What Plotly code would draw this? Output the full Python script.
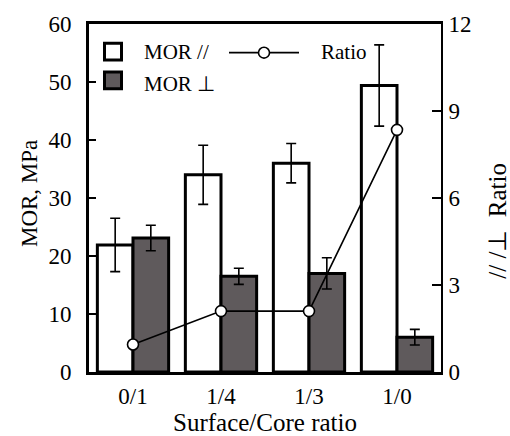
import plotly.graph_objects as go

# Data
ratios = ["0/1", "1/4", "1/3", "1/0"]
mor_par = [21.9, 34.0, 36.0, 49.4]
mor_par_err = [4.6, 5.1, 3.4, 7.0]
mor_perp = [23.1, 16.5, 17.0, 6.0]
mor_perp_err = [2.2, 1.4, 2.7, 1.35]
par_perp_ratio = [0.95, 2.1, 2.1, 8.35]

left_ticks = [0, 10, 20, 30, 40, 50, 60]
right_ticks = [0, 3, 6, 9, 12]

FONT = "Liberation Serif"
GRAY = "#5f5a5c"

W, H = 510, 436
L, R, T, B = 89, 441, 20, 372  # plot area in pixels


def px(x):
    return (x - L) / (R - L)


def py(y):
    return (B - y) / (B - T)


fig = go.Figure()

fig.add_trace(go.Bar(
    x=ratios, y=mor_par, name="MOR //",
    marker=dict(color="white", line=dict(color="black", width=3)),
    error_y=dict(type="data", array=mor_par_err, color="black", thickness=1.6, width=5),
    showlegend=False,
))
fig.add_trace(go.Bar(
    x=ratios, y=mor_perp, name="MOR ⊥",
    marker=dict(color=GRAY, line=dict(color="black", width=3)),
    error_y=dict(type="data", array=mor_perp_err, color="black", thickness=1.6, width=5),
    showlegend=False,
))
fig.add_trace(go.Scatter(
    x=ratios, y=par_perp_ratio, name="Ratio", yaxis="y2",
    mode="lines+markers",
    line=dict(color="black", width=1.6),
    marker=dict(symbol="circle", size=11, color="white", line=dict(color="black", width=1.6)),
    showlegend=False,
))

# Legend drawn as shapes and text
shapes = [
    dict(type="rect", xref="paper", yref="paper",
         x0=px(104.5), x1=px(121.5), y0=py(39.5), y1=py(56.5),
         line=dict(color="black", width=3), fillcolor="white"),
    dict(type="rect", xref="paper", yref="paper",
         x0=px(104.5), x1=px(121.5), y0=py(68.5), y1=py(85.5),
         line=dict(color="black", width=3), fillcolor=GRAY),
    dict(type="line", xref="paper", yref="paper",
         x0=px(229), x1=px(299), y0=py(49), y1=py(49),
         line=dict(color="black", width=1.6)),
    dict(type="circle", xref="paper", yref="paper",
         x0=px(258.5), x1=px(269.5), y0=py(43.5), y1=py(54.5),
         line=dict(color="black", width=1.6), fillcolor="white"),
]

NBSP = "\u00a0"
annotations = [
    dict(text="MOR //", x=px(142), y=py(48), xref="paper", yref="paper",
         xanchor="left", yanchor="middle", showarrow=False,
         font=dict(family=FONT, size=21, color="black")),
    dict(text="MOR ⊥", x=px(142), y=py(81), xref="paper", yref="paper",
         xanchor="left", yanchor="middle", showarrow=False,
         font=dict(family=FONT, size=21, color="black")),
    dict(text="Ratio", x=px(319), y=py(48), xref="paper", yref="paper",
         xanchor="left", yanchor="middle", showarrow=False,
         font=dict(family=FONT, size=21, color="black")),
    # axis titles
    dict(text="MOR, MPa", x=px(29), y=py(192), xref="paper", yref="paper",
         xanchor="center", yanchor="middle", textangle=-90, showarrow=False,
         font=dict(family=FONT, size=23, color="black")),
    dict(text=f"//{NBSP}/⊥{NBSP}{NBSP}Ratio", x=px(498), y=py(219), xref="paper", yref="paper",
         xanchor="center", yanchor="middle", textangle=-90, showarrow=False,
         font=dict(family=FONT, size=25, color="black")),
    dict(text="Surface/Core ratio", x=px(265), y=py(423), xref="paper", yref="paper",
         xanchor="center", yanchor="middle", showarrow=False,
         font=dict(family=FONT, size=25, color="black")),
]

fig.update_layout(
    width=W, height=H,
    margin=dict(l=L, r=W - R, t=T, b=H - B, pad=0),
    paper_bgcolor="white", plot_bgcolor="white",
    barmode="group", bargap=0.19, bargroupgap=0,
    font=dict(family=FONT, size=23, color="black"),
    shapes=shapes, annotations=annotations,
    xaxis=dict(
        type="category", range=[-0.5, 3.5],
        showline=True, linecolor="black", linewidth=3, mirror=True,
        ticks="", showgrid=False, zeroline=False,
        tickfont=dict(family=FONT, size=23), ticklabelstandoff=1,
    ),
    yaxis=dict(
        range=[0, 60], tickvals=left_ticks,
        showline=True, linecolor="black", linewidth=3,
        ticks="inside", ticklen=7, tickwidth=2, tickcolor="black",
        showgrid=False, zeroline=False,
        tickfont=dict(family=FONT, size=23), ticklabelstandoff=10,
    ),
    yaxis2=dict(
        range=[0, 12], tickvals=right_ticks, overlaying="y", side="right",
        showline=True, linecolor="black", linewidth=2,
        ticks="inside", ticklen=9, tickwidth=2, tickcolor="black",
        showgrid=False, zeroline=False,
        tickfont=dict(family=FONT, size=23), ticklabelstandoff=1,
    ),
)

fig.write_html("out.html")
